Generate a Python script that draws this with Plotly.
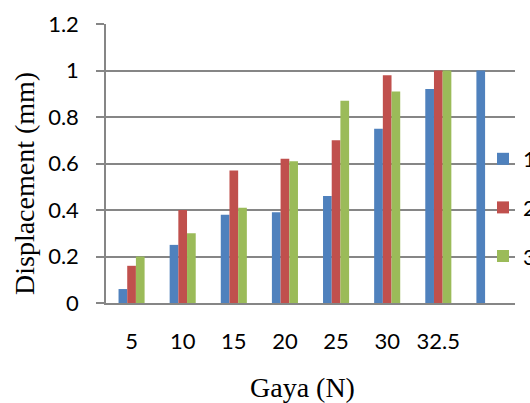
import plotly.graph_objects as go

# Applied force categories (the last slot has no label)
categories = ["5", "10", "15", "20", "25", "30", "32.5", ""]
series_names = ["1", "2", "3"]

# Displacement readings per series (mm); None where no reading was taken
disp_1 = [0.06, 0.25, 0.38, 0.39, 0.46, 0.75, 0.92, 1.00]
disp_2 = [0.16, 0.40, 0.57, 0.62, 0.70, 0.98, 1.00, None]
disp_3 = [0.20, 0.30, 0.41, 0.61, 0.87, 0.91, 1.00, None]

colors = ["#4F81BD", "#C0504D", "#9BBB59"]

positions = list(range(len(categories)))

fig = go.Figure()
for name, vals, col in zip(series_names, [disp_1, disp_2, disp_3], colors):
    fig.add_trace(go.Bar(
        x=positions, y=vals, name=name, legendgroup=name,
        marker=dict(color=col, line=dict(width=0)),
    ))

tick_font = dict(family="Lato, 'Open Sans', sans-serif", size=22, color="#000000")
title_font = dict(family="'Liberation Serif', 'Times New Roman', serif", size=28, color="#000000")

# plot area in pixels: left 106, right 515, top 24, bottom 303
L, R, T, B = 106, 515, 24, 303
W, H = R - L, B - T

fig.update_layout(
    width=530, height=403,
    margin=dict(l=L, r=530 - R, t=T, b=403 - B, autoexpand=False),
    paper_bgcolor="white", plot_bgcolor="white",
    barmode="group", bargap=0.49, bargroupgap=0,
    showlegend=True,
    legend=dict(
        x=(483 - L) / W, xanchor="left",
        y=1 - (138 - T) / H, yanchor="top",
        bgcolor="rgba(0,0,0,0)", font=tick_font,
        tracegroupgap=17,
    ),
    xaxis=dict(
        tickmode="array", tickvals=positions, ticktext=categories,
        range=[-0.5, len(categories) - 0.5],
        showgrid=False, zeroline=False,
        showline=True, linecolor="#868686", linewidth=1.5,
        ticks="", tickfont=tick_font, ticklabelstandoff=18,
    ),
    yaxis=dict(
        range=[0, 1.2], dtick=0.2,
        showgrid=True, gridcolor="#868686", gridwidth=1.5,
        zeroline=False,
        showline=True, linecolor="#868686", linewidth=1.5,
        ticks="outside", ticklen=8, tickcolor="#868686", tickwidth=1.5,
        tickfont=tick_font, ticklabelstandoff=13,
    ),
    annotations=[
        dict(text="Displacement (mm)", font=title_font, textangle=-90,
             xref="paper", yref="paper", showarrow=False,
             x=(24 - L) / W, y=(B - 184) / H, xanchor="center", yanchor="middle"),
        dict(text="Gaya (N)", font=title_font,
             xref="paper", yref="paper", showarrow=False,
             x=(302 - L) / W, y=(B - 387) / H, xanchor="center", yanchor="middle"),
    ],
)

fig.write_html("out.html")
